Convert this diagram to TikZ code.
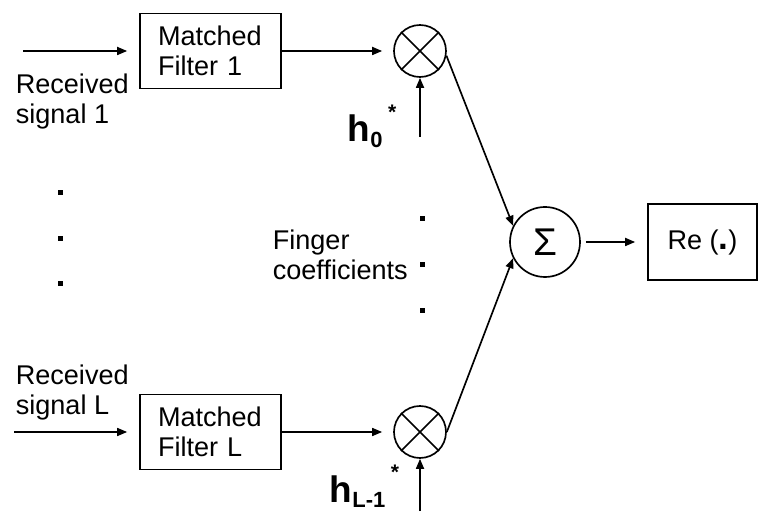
\documentclass[tikz,border=0pt]{standalone}
\usepackage{fontspec}
\setmainfont{Liberation Sans}
\usetikzlibrary{arrows.meta}
\newcommand{\hcoef}[1]{{\bfseries h\raisebox{-0.15em}{\fontsize{12.5}{12.5}\selectfont #1}}\hspace{0.15em}\raisebox{0.6em}{\fontsize{12}{12}\selectfont\bfseries *}}

\begin{document}
\begin{tikzpicture}[font=\fontsize{15.4}{17}\selectfont, line width=0.95pt,
    >={Triangle[length=0.2cm,width=0.16cm]},
    filterbox/.style={draw, minimum width=2.82cm, minimum height=1.5cm, text width=2.1cm, align=left},
    mixer/.style={draw, circle, minimum size=1.04cm, inner sep=0pt},
    textlabel/.style={anchor=north west, inner sep=0pt, align=left},
    coeflabel/.style={anchor=base west, inner sep=0pt, font=\fontsize{21}{21}\selectfont}]
    \useasboundingbox (0,0) rectangle (15.16,10.22);
    \node[filterbox] (mf1) at (4.21,9.2) {Matched\\Filter 1};
    \node[filterbox] (mfL) at (4.21,1.58) {Matched\\Filter L};
    \node[mixer] (m1) at (8.4,9.2) {};
    \node[mixer] (mL) at (8.4,1.58) {};
    \draw (m1.45) -- (m1.225) (m1.135) -- (m1.315);
    \draw (mL.45) -- (mL.225) (mL.135) -- (mL.315);
    \node[draw, circle, minimum size=1.4cm, inner sep=0pt, font=\fontsize{22}{22}\selectfont] (sum) at (10.9,5.38) {Σ};
    \node[draw, minimum width=2.18cm, minimum height=1.52cm] (re) at (14.05,5.38) {Re ({\bfseries\fontsize{20}{20}\selectfont .})};
    \coordinate (in1) at (0.46,9.2);
    \coordinate (inL) at (0.28,1.58);
    \coordinate (c1) at (8.4,7.48);
    \coordinate (cL) at (8.4,0);
    \draw[->, shorten >=0.24cm] (in1) -- (mf1);
    \draw[->, shorten >=0.24cm] (inL) -- (mfL);
    \draw[->, shorten >=0.22cm] (mf1) -- (m1);
    \draw[->, shorten >=0.22cm] (mfL) -- (mL);
    \draw[->] (c1) -- (m1);
    \draw[->] (cL) -- (mL);
    \draw[->] (m1.-10) -- (sum.153);
    \draw[->] (mL.east) -- (sum.207);
    \draw[->, shorten <=0.1cm, shorten >=0.24cm] (sum) -- (re);
    \node[textlabel] (rx1) at (0.3,8.76) {Received\\signal 1};
    \node[textlabel] (rxL) at (0.3,2.94) {Received\\signal L};
    \node[textlabel] (fing) at (5.44,5.64) {Finger\\coefficients};
    \node[coeflabel] (h0) at (6.94,7.38) {\hcoef{0}};
    \node[coeflabel] (hL) at (6.58,0.18) {\hcoef{L-1}};
    \foreach \y in {6.36,5.44,4.54}
        \fill (1.15,\y-0.05) rectangle +(0.1,0.1);
    \foreach \y in {5.84,4.92,4.0}
        \fill (8.39,\y-0.05) rectangle +(0.1,0.1);
\end{tikzpicture}
\end{document}
